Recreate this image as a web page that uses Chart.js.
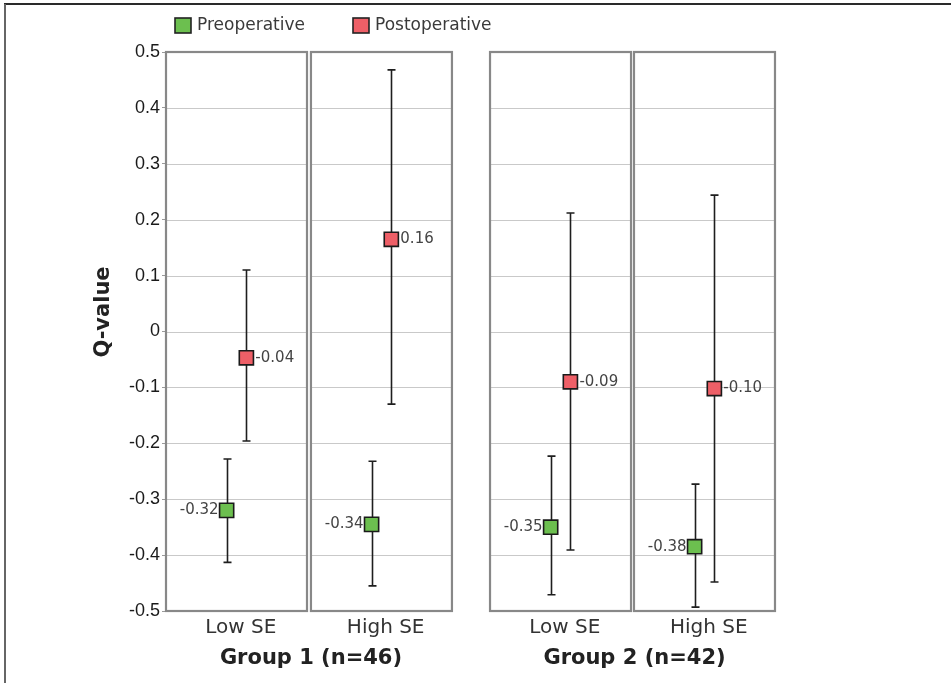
<!DOCTYPE html>
<html>
<head>
<meta charset="utf-8">
<script src="https://cdn.jsdelivr.net/npm/chart.js@4/dist/chart.umd.min.js"></script>
<style>
  html, body { margin: 0; padding: 0; background: #fff; }
  #wrap { width: 951px; height: 683px; position: relative; }
</style>
</head>
<body>
<div id="wrap"><canvas id="myChart" width="951" height="683"></canvas></div>
<script>
// data
const categories = ["Low SE", "High SE", "Low SE", "High SE"];
const groups = ["Group 1 (n=46)", "Group 2 (n=42)"];
const seriesNames = ["Preoperative", "Postoperative"];

const preValues = [-0.32, -0.345, -0.35, -0.385];
const preLow = [-0.413, -0.455, -0.471, -0.493];
const preHigh = [-0.228, -0.232, -0.223, -0.273];
const preLabels = ["-0.32", "-0.34", "-0.35", "-0.38"];

const postValues = [-0.047, 0.165, -0.09, -0.102];
const postLow = [-0.196, -0.13, -0.391, -0.448];
const postHigh = [0.11, 0.468, 0.212, 0.244];
const postLabels = ["-0.04", "0.16", "-0.09", "-0.10"];

const yTicks = { min: -0.5, max: 0.5, step: 0.1 };

// layout of the four panels along a linear x scale (1 unit = one panel)
const panelStart = [0, 1.028, 2.298, 3.319];
const preOffset = 0.43;
const postOffset = 0.57;

const green = "#6cbf4f";
const red = "#ee5f67";

const preData = preValues.map((v, i) => ({ x: panelStart[i] + preOffset, y: v }));
const postData = postValues.map((v, i) => ({ x: panelStart[i] + postOffset, y: v }));

const panelsPlugin = {
  id: "panels",
  beforeDatasetsDraw(chart) {
    const ctx = chart.ctx;
    const xs = chart.scales.x;
    const ys = chart.scales.y;
    const top = ys.getPixelForValue(yTicks.max);
    const bottom = ys.getPixelForValue(yTicks.min);
    ctx.save();
    panelStart.forEach((s) => {
      const l = xs.getPixelForValue(s);
      const r = xs.getPixelForValue(s + 1);
      ctx.strokeStyle = "#c9c9c9";
      ctx.lineWidth = 1;
      for (let k = 1; k < 10; k++) {
        const v = yTicks.min + k * yTicks.step;
        const y = Math.round(ys.getPixelForValue(v)) + 0.5;
        ctx.beginPath();
        ctx.moveTo(l, y);
        ctx.lineTo(r, y);
        ctx.stroke();
      }
      ctx.strokeStyle = "#888";
      ctx.lineWidth = 2.2;
      ctx.strokeRect(l, top, r - l, bottom - top);
    });

    // error bars
    ctx.strokeStyle = "#1e1e1e";
    ctx.lineWidth = 1.6;
    const drawBar = (x, lo, hi) => {
      const px = Math.round(xs.getPixelForValue(x)) + 0.5;
      const y1 = ys.getPixelForValue(lo);
      const y2 = ys.getPixelForValue(hi);
      ctx.beginPath();
      ctx.moveTo(px, y1);
      ctx.lineTo(px, y2);
      ctx.moveTo(px - 4, y1);
      ctx.lineTo(px + 4, y1);
      ctx.moveTo(px - 4, y2);
      ctx.lineTo(px + 4, y2);
      ctx.stroke();
    };
    preData.forEach((p, i) => drawBar(p.x, preLow[i], preHigh[i]));
    postData.forEach((p, i) => drawBar(p.x, postLow[i], postHigh[i]));
    ctx.restore();
  },
  afterDatasetsDraw(chart) {
    const ctx = chart.ctx;
    const xs = chart.scales.x;
    const ys = chart.scales.y;
    ctx.save();
    ctx.font = "15px 'DejaVu Sans'";
    ctx.fillStyle = "#444";
    ctx.textBaseline = "middle";
    ctx.textAlign = "right";
    preData.forEach((p, i) => {
      ctx.fillText(preLabels[i], xs.getPixelForValue(p.x) - 8, ys.getPixelForValue(p.y));
    });
    ctx.textAlign = "left";
    postData.forEach((p, i) => {
      ctx.fillText(postLabels[i], xs.getPixelForValue(p.x) + 9, ys.getPixelForValue(p.y));
    });

    // category labels under each panel
    ctx.fillStyle = "#333";
    ctx.textAlign = "center";
    ctx.font = "20px 'DejaVu Sans'";
    categories.forEach((c, i) => {
      ctx.fillText(c, xs.getPixelForValue(panelStart[i] + 0.53), 628);
    });
    // group labels
    ctx.fillStyle = "#222";
    ctx.font = "bold 21px 'DejaVu Sans'";
    groups.forEach((g, j) => {
      const a = xs.getPixelForValue(panelStart[j * 2]);
      const b = xs.getPixelForValue(panelStart[j * 2 + 1] + 1);
      ctx.fillText(g, (a + b) / 2 + 2, 659);
    });

    // y axis title
    ctx.save();
    ctx.translate(104, 312);
    ctx.rotate(-Math.PI / 2);
    ctx.font = "bold 21px 'DejaVu Sans'";
    ctx.fillText("Q-value", 0, 0);
    ctx.restore();

    // legend
    const items = [
      { name: seriesNames[0], color: green, x: 175 },
      { name: seriesNames[1], color: red, x: 353 },
    ];
    ctx.font = "17px 'DejaVu Sans'";
    ctx.textAlign = "left";
    items.forEach((it) => {
      ctx.fillStyle = it.color;
      ctx.fillRect(it.x, 18, 16, 15);
      ctx.strokeStyle = "#222";
      ctx.lineWidth = 1.6;
      ctx.strokeRect(it.x, 18, 16, 15);
      ctx.fillStyle = "#3a3a3a";
      ctx.fillText(it.name, it.x + 22, 26);
    });

    // figure frame (top and left)
    ctx.strokeStyle = "#2a2a2a";
    ctx.lineWidth = 2;
    ctx.beginPath();
    ctx.moveTo(4, 4);
    ctx.lineTo(951, 4);
    ctx.stroke();
    ctx.strokeStyle = "#666";
    ctx.beginPath();
    ctx.moveTo(5, 4);
    ctx.lineTo(5, 683);
    ctx.stroke();
    ctx.restore();
  },
};

new Chart(document.getElementById("myChart"), {
  type: "scatter",
  data: {
    datasets: [
      {
        label: seriesNames[0],
        data: preData,
        pointStyle: "rect",
        pointRadius: 10,
        pointHoverRadius: 10,
        backgroundColor: green,
        borderColor: "#1a1a1a",
        borderWidth: 1.6,
      },
      {
        label: seriesNames[1],
        data: postData,
        pointStyle: "rect",
        pointRadius: 10,
        pointHoverRadius: 10,
        backgroundColor: red,
        borderColor: "#1a1a1a",
        borderWidth: 1.6,
      },
    ],
  },
  options: {
    responsive: false,
    animation: false,
    layout: { padding: { left: 0, right: 177, top: 52, bottom: 72 } },
    plugins: {
      legend: { display: false },
      tooltip: { enabled: false },
    },
    scales: {
      x: {
        type: "linear",
        min: 0,
        max: 4.312,
        display: false,
      },
      y: {
        min: yTicks.min,
        max: yTicks.max,
        afterFit: (s) => {
          s.width = 166;
        },
        ticks: {
          stepSize: yTicks.step,
          padding: 2,
          color: "#1a1a1a",
          font: { family: "'Liberation Sans', Arial", size: 18 },
          callback: (v) => {
            const r = Math.round(v * 10) / 10;
            return r === 0 ? "0" : r.toFixed(1);
          },
        },
        grid: {
          drawOnChartArea: false,
          tickLength: 4,
          color: "#9a9a9a",
        },
        border: { display: false },
      },
    },
  },
  plugins: [panelsPlugin],
});
</script>
</body>
</html>
